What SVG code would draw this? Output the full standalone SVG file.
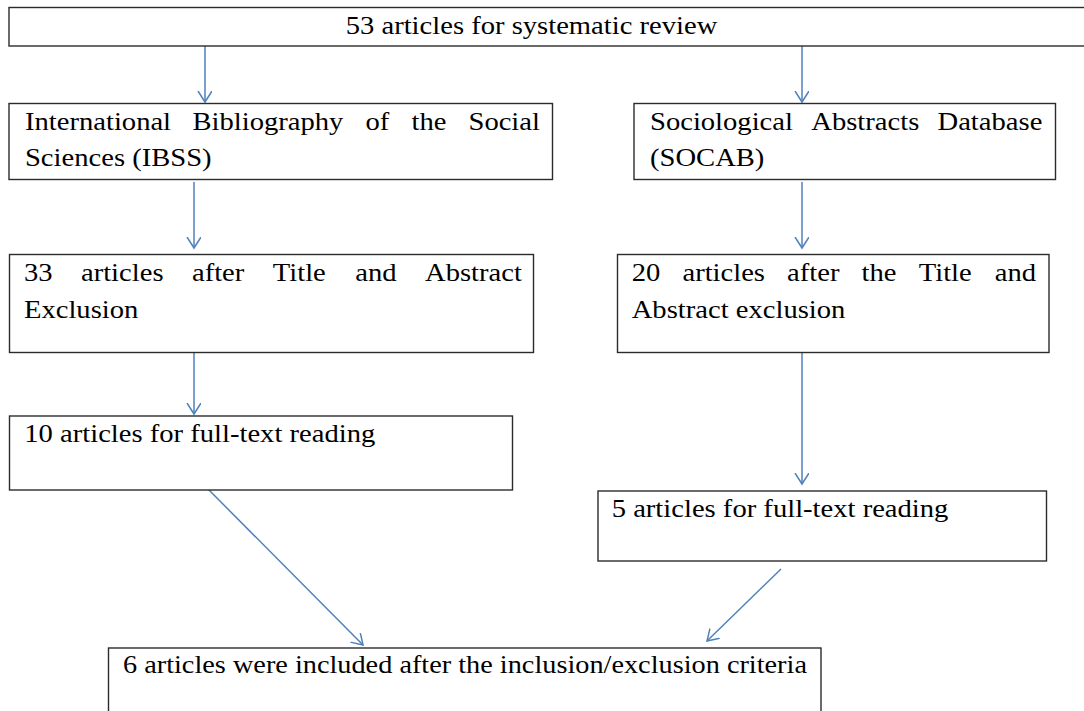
<svg xmlns="http://www.w3.org/2000/svg" width="1084" height="711" viewBox="0 0 1084 711">
<style>
.box{fill:#ffffff;stroke:#2b2b2b;stroke-width:1.4}
.lbl{font-family:"Liberation Serif","Times New Roman",serif;font-size:26px;fill:#000}
.conn{stroke:#4f81bd;stroke-width:1.5;fill:none}
</style>
<defs>
<marker id="arr" markerUnits="userSpaceOnUse" markerWidth="14" markerHeight="16" refX="11" refY="7" orient="auto" viewBox="0 0 14 16">
<path d="M0,0 L11,7 L0,14" fill="none" stroke="#4f81bd" stroke-width="1.5"/>
</marker>
</defs>
<rect width="1084" height="711" fill="#ffffff"/>
<g id="connectors">
<line class="conn" x1="205" y1="42" x2="205" y2="102" marker-end="url(#arr)"/>
<line class="conn" x1="802" y1="43" x2="802" y2="102" marker-end="url(#arr)"/>
<line class="conn" x1="194" y1="182" x2="194" y2="248" marker-end="url(#arr)"/>
<line class="conn" x1="802" y1="182" x2="802" y2="248" marker-end="url(#arr)"/>
<line class="conn" x1="194" y1="353" x2="194" y2="414" marker-end="url(#arr)"/>
<line class="conn" x1="802" y1="353" x2="802" y2="484" marker-end="url(#arr)"/>
<line class="conn" x1="206" y1="487" x2="363" y2="645" marker-end="url(#arr)"/>
<line class="conn" x1="781" y1="569" x2="707" y2="641" marker-end="url(#arr)"/>
</g>
<g id="n-top">
<rect class="box" x="9" y="7.5" width="1090" height="38.5"/>
</g>
<g id="n-ibss">
<rect class="box" x="9" y="103.5" width="543.5" height="76"/>
</g>
<g id="n-socab">
<rect class="box" x="634" y="103.5" width="421.5" height="76"/>
</g>
<g id="n-33">
<rect class="box" x="9.5" y="254.5" width="524" height="98"/>
</g>
<g id="n-20">
<rect class="box" x="617.5" y="254.5" width="431.5" height="98"/>
</g>
<g id="n-10">
<rect class="box" x="9.5" y="416" width="503" height="74"/>
</g>
<g id="n-5">
<rect class="box" x="598" y="491" width="448.5" height="70"/>
</g>
<g id="n-6">
<rect class="box" x="108.5" y="648" width="712.5" height="80"/>
</g>
<g id="labels" transform="scale(1.1,1)">
<text class="lbl" x="314.3" y="34">53 articles for systematic review</text>
<text class="lbl" y="130"><tspan x="22.7">International</tspan><tspan x="175">Bibliography</tspan><tspan x="332.3">of</tspan><tspan x="374.1">the</tspan><tspan x="425.9">Social</tspan></text>
<text class="lbl" x="22.7" y="165.7">Sciences (IBSS)</text>
<text class="lbl" y="130"><tspan x="590.9">Sociological</tspan><tspan x="737.5">Abstracts</tspan><tspan x="852.3">Database</tspan></text>
<text class="lbl" x="590.9" y="165.7">(SOCAB)</text>
<text class="lbl" y="280.7"><tspan x="21.8">33</tspan><tspan x="73.6">articles</tspan><tspan x="174.5">after</tspan><tspan x="248">Title</tspan><tspan x="322.9">and</tspan><tspan x="386.4">Abstract</tspan></text>
<text class="lbl" x="21.8" y="318.3">Exclusion</text>
<text class="lbl" y="280.7"><tspan x="574.3">20</tspan><tspan x="620.4">articles</tspan><tspan x="715.5">after</tspan><tspan x="783.3">the</tspan><tspan x="835.2">Title</tspan><tspan x="904.4">and</tspan></text>
<text class="lbl" x="574.3" y="318.3">Abstract exclusion</text>
<text class="lbl" x="22.1" y="442.5">10 articles for full-text reading</text>
<text class="lbl" x="556.1" y="516.7">5 articles for full-text reading</text>
<text class="lbl" x="111.8" y="673.3" textLength="621.8" lengthAdjust="spacingAndGlyphs">6 articles were included after the inclusion/exclusion criteria</text>
</g>
</svg>
